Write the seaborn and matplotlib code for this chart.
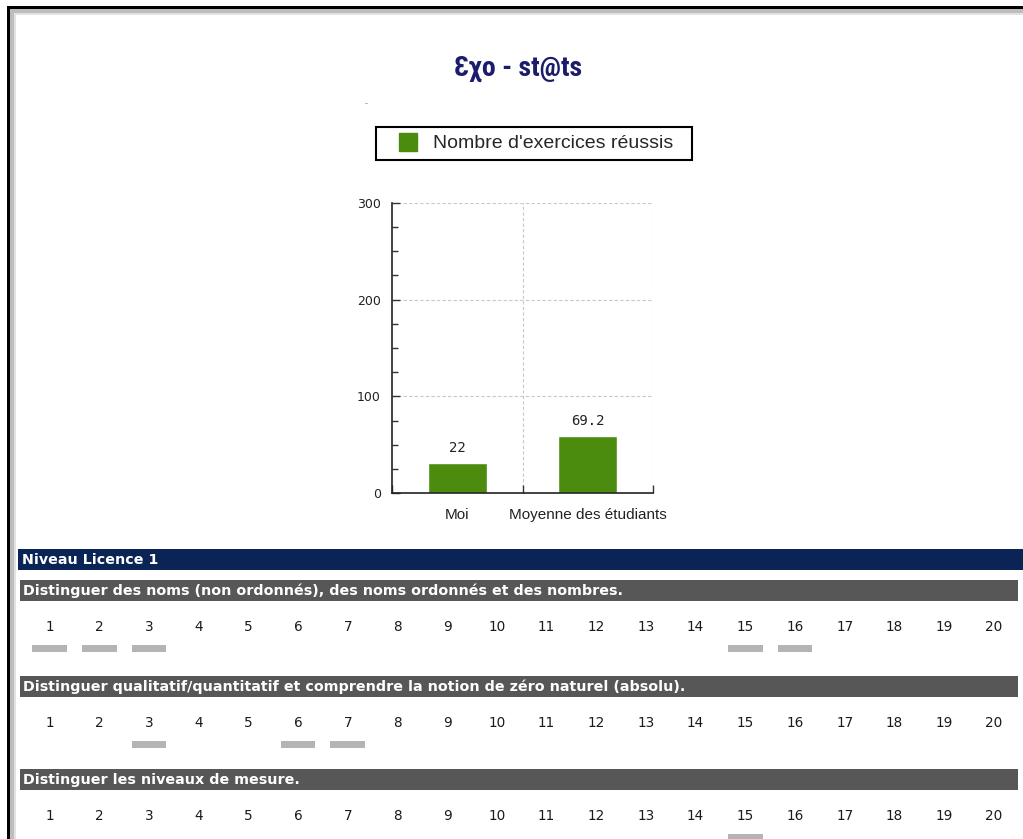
import matplotlib
matplotlib.use('Agg')
import matplotlib.pyplot as plt
import seaborn as sns
from matplotlib.patches import Rectangle
from matplotlib.lines import Line2D
from matplotlib.ticker import MultipleLocator, FixedLocator

# ---- data ----
bar_categories = ["Moi", "Moyenne des étudiants"]
bar_values = [31, 59]            # bar heights as drawn
bar_labels = ["22", "69.2"]      # labels printed above the bars
legend_label = "Nombre d'exercices réussis"
page_title = "Ɛχo - st@ts"

section_title = "Niveau Licence 1"
skill_titles = [
    "Distinguer des noms (non ordonnés), des noms ordonnés et des nombres.",
    "Distinguer qualitatif/quantitatif et comprendre la notion de zéro naturel (absolu).",
    "Distinguer les niveaux de mesure.",
]
exercise_numbers = [1, 2, 3, 4, 5, 6, 7, 8, 9, 10, 11, 12, 13, 14, 15, 16, 17, 18, 19, 20]
done_skill1 = [1, 2, 3, 15, 16]
done_skill2 = [3, 6, 7]
done_skill3 = [15]

GREEN = "#4b8c0e"
NAVY = "#0b2456"
BAND_GRAY = "#575757"
MARK_GRAY = "#b4b4b4"

W, H = 1023, 839
sns.set_style("white")
plt.rcParams['font.family'] = ['DejaVu Sans']

fig = plt.figure(figsize=(W / 100, H / 100), dpi=100)
fig.patch.set_facecolor("white")


def px_axes(x0, y0, x1, y1):
    # axes placed by page pixel box (top-left origin)
    return fig.add_axes([x0 / W, 1 - y1 / H, (x1 - x0) / W, (y1 - y0) / H])


# page frame / decorations
bg = px_axes(0, 0, W, H)
bg.set_xlim(0, W)
bg.set_ylim(H, 0)
bg.axis("off")
bg.add_patch(Rectangle((7, 6), W, 3, color="black", lw=0))
bg.add_patch(Rectangle((7, 6), 3, H, color="black", lw=0))
bg.add_patch(Rectangle((10, 9), W, 4, color="#bdbdbd", lw=0))
bg.add_patch(Rectangle((10, 9), 4, H, color="#bdbdbd", lw=0))
bg.add_patch(Rectangle((14, 13), W, 2, color="#e2e2e2", lw=0))
bg.add_patch(Rectangle((14, 13), 2, H, color="#e2e2e2", lw=0))

bg.text(518, 69, page_title, ha="center", va="center", fontsize=20,
        fontweight="bold", fontstretch="condensed", color="#1c1d6a",
        family=["Roboto Condensed", "DejaVu Sans"])
bg.text(366, 104, "-", ha="center", va="center", fontsize=6, color="#888888")

# level band + skill bands
bg.add_patch(Rectangle((18, 549), W - 18, 21, color=NAVY, lw=0))
bg.text(22, 560, section_title, ha="left", va="center", fontsize=10.3,
        fontweight="bold", color="white")

band_tops = [580, 676, 769]
done_lists = [done_skill1, done_skill2, done_skill3]
for top, title, done in zip(band_tops, skill_titles, done_lists):
    bg.add_patch(Rectangle((20, top), 998, 21, color=BAND_GRAY, lw=0))
    bg.text(23, top + 11, title, ha="left", va="center", fontsize=10.3,
            fontweight="bold", color="white")

    row = px_axes(24.7, top + 30, 1018.7, top + 80)
    row.set_xlim(0.5, 20.5)
    row.set_ylim(top + 80, top + 30)
    row.axis("off")
    for n in exercise_numbers:
        row.text(n, top + 47, str(n), ha="center", va="center",
                 fontsize=9.8, color="#1a1a1a")
    row.bar(done, [7] * len(done), width=0.7, bottom=top + 65,
            color=MARK_GRAY, lw=0)

# ---- bar chart ----
ax = px_axes(392, 203, 653, 493)
sns.barplot(x=bar_categories, y=bar_values, color=GREEN, width=0.45,
            saturation=1, ax=ax)
ax.set_xlim(-0.5, 1.5)
ax.set_ylim(0, 300)

ax.yaxis.set_major_locator(MultipleLocator(100))
ax.yaxis.set_minor_locator(MultipleLocator(25))
ax.xaxis.set_minor_locator(FixedLocator([-0.5, 0.5, 1.5]))
ax.tick_params(axis="y", which="major", direction="in", length=6, width=1,
               color="#333333", labelsize=9, labelcolor="#222222", pad=8,
               left=True)
ax.tick_params(axis="y", which="minor", direction="in", length=4, width=1,
               color="#333333", left=True)
ax.tick_params(axis="x", which="major", length=0, labelsize=11,
               labelcolor="#222222", pad=11)
ax.tick_params(axis="x", which="minor", direction="in", length=6, width=1,
               color="#333333", bottom=True)
for lab in ax.get_xticklabels():
    lab.set_family("Liberation Sans")

for y in [100, 200, 300]:
    ax.axhline(y, color="#c8c8c8", lw=0.8, ls=(0, (3, 2)), zorder=0)
for x in [0.5, 1.5]:
    ax.axvline(x, color="#c8c8c8", lw=0.8, ls=(0, (3, 2)), zorder=0)

for side in ["top", "right"]:
    ax.spines[side].set_visible(False)
for side in ["left", "bottom"]:
    ax.spines[side].set_color("#222222")
    ax.spines[side].set_linewidth(1.2)
ax.set_xlabel("")
ax.set_ylabel("")

ax.bar_label(ax.containers[0], labels=bar_labels, padding=6, fontsize=10,
             family="DejaVu Sans Mono", color="#222222")

# legend box above the chart (trailing spaces give the right-hand margin)
handle = Line2D([], [], marker="s", markersize=13, linestyle="none",
                color=GREEN)
leg = fig.legend([handle], [legend_label + "  "], loc="center",
                 bbox_to_anchor=(534 / W, 1 - 143.5 / H),
                 frameon=True, fancybox=False, shadow=False,
                 edgecolor="black", framealpha=1,
                 prop={"family": "Liberation Sans", "size": 14},
                 handlelength=2.4, handletextpad=0.1,
                 borderpad=0.42, borderaxespad=0)
leg.get_frame().set_linewidth(1.5)

fig.savefig("out.png", dpi=100)
